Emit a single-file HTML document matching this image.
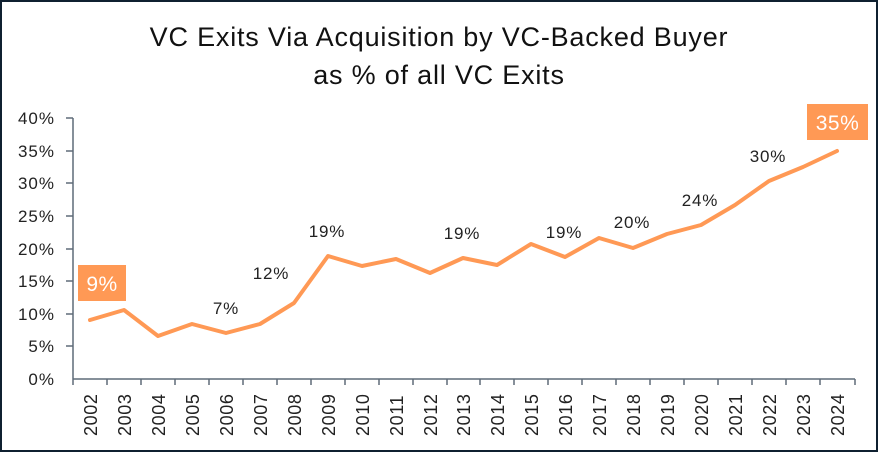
<!DOCTYPE html>
<html><head><style>
html,body{margin:0;padding:0;background:#fff;}
svg{display:block;font-family:"Liberation Sans",sans-serif;}
</style></head><body>
<svg width="878" height="452" viewBox="0 0 878 452" xmlns="http://www.w3.org/2000/svg">
<rect x="1" y="1" width="876" height="450" fill="#fff" stroke="#0f2030" stroke-width="2"/>
<text x="439" y="46" text-anchor="middle" font-size="27" letter-spacing="0.8" fill="#111">VC Exits Via Acquisition by VC-Backed Buyer</text>
<text x="439" y="84" text-anchor="middle" font-size="27" letter-spacing="0.8" fill="#111">as % of all VC Exits</text>
<g font-size="17" letter-spacing="1" fill="#222" text-anchor="end">
<text x="55" y="124">40%</text><text x="55" y="157">35%</text><text x="55" y="189">30%</text><text x="55" y="222">25%</text><text x="55" y="255">20%</text><text x="55" y="287">15%</text><text x="55" y="320">10%</text><text x="55" y="352">5%</text><text x="55" y="385">0%</text>
</g>
<g stroke="#5f6b78" stroke-width="1.5">
<line x1="73" y1="118" x2="73" y2="379"/>
<line x1="73" y1="379" x2="855" y2="379"/>
<line x1="66" y1="118" x2="73" y2="118"/><line x1="66" y1="151" x2="73" y2="151"/><line x1="66" y1="183" x2="73" y2="183"/><line x1="66" y1="216" x2="73" y2="216"/><line x1="66" y1="249" x2="73" y2="249"/><line x1="66" y1="281" x2="73" y2="281"/><line x1="66" y1="314" x2="73" y2="314"/><line x1="66" y1="346" x2="73" y2="346"/>
<line x1="73" y1="379" x2="73" y2="385"/><line x1="107" y1="379" x2="107" y2="385"/><line x1="141" y1="379" x2="141" y2="385"/><line x1="175" y1="379" x2="175" y2="385"/><line x1="209" y1="379" x2="209" y2="385"/><line x1="243" y1="379" x2="243" y2="385"/><line x1="277" y1="379" x2="277" y2="385"/><line x1="311" y1="379" x2="311" y2="385"/><line x1="345" y1="379" x2="345" y2="385"/><line x1="379" y1="379" x2="379" y2="385"/><line x1="413" y1="379" x2="413" y2="385"/><line x1="447" y1="379" x2="447" y2="385"/><line x1="480" y1="379" x2="480" y2="385"/><line x1="514" y1="379" x2="514" y2="385"/><line x1="548" y1="379" x2="548" y2="385"/><line x1="582" y1="379" x2="582" y2="385"/><line x1="616" y1="379" x2="616" y2="385"/><line x1="650" y1="379" x2="650" y2="385"/><line x1="684" y1="379" x2="684" y2="385"/><line x1="718" y1="379" x2="718" y2="385"/><line x1="752" y1="379" x2="752" y2="385"/><line x1="786" y1="379" x2="786" y2="385"/><line x1="820" y1="379" x2="820" y2="385"/><line x1="855" y1="379" x2="855" y2="385"/>
</g>
<g font-size="18" letter-spacing="0.6" fill="#222">
<text transform="translate(97,436) rotate(-90)">2002</text><text transform="translate(131,436) rotate(-90)">2003</text><text transform="translate(165,436) rotate(-90)">2004</text><text transform="translate(199,436) rotate(-90)">2005</text><text transform="translate(233,436) rotate(-90)">2006</text><text transform="translate(267,436) rotate(-90)">2007</text><text transform="translate(301,436) rotate(-90)">2008</text><text transform="translate(335,436) rotate(-90)">2009</text><text transform="translate(369,436) rotate(-90)">2010</text><text transform="translate(403,436) rotate(-90)">2011</text><text transform="translate(437,436) rotate(-90)">2012</text><text transform="translate(470,436) rotate(-90)">2013</text><text transform="translate(504,436) rotate(-90)">2014</text><text transform="translate(538,436) rotate(-90)">2015</text><text transform="translate(572,436) rotate(-90)">2016</text><text transform="translate(606,436) rotate(-90)">2017</text><text transform="translate(640,436) rotate(-90)">2018</text><text transform="translate(674,436) rotate(-90)">2019</text><text transform="translate(708,436) rotate(-90)">2020</text><text transform="translate(742,436) rotate(-90)">2021</text><text transform="translate(776,436) rotate(-90)">2022</text><text transform="translate(810,436) rotate(-90)">2023</text><text transform="translate(844,436) rotate(-90)">2024</text>
</g>
<polyline fill="none" stroke="#ff9955" stroke-width="4" stroke-linejoin="round" stroke-linecap="round"
points="90,320 124,310 158,336 192,324 226,333 260,324 294,303 328,256 362,266 396,259 430,273 463,258 497,265 531,244 565,257 599,238 633,248 667,234 701,225 735,205 769,181 803,167 837,151"/>
<rect x="78" y="265" width="48" height="36" fill="#ff9955"/>
<text x="102" y="291" text-anchor="middle" font-size="21" letter-spacing="0.5" fill="#fff">9%</text>
<rect x="807" y="104" width="61" height="36" fill="#ff9955"/>
<text x="837.5" y="130" text-anchor="middle" font-size="21" letter-spacing="0.5" fill="#fff">35%</text>
<g font-size="17" letter-spacing="0.8" fill="#222" text-anchor="middle">
<text x="226" y="314">7%</text><text x="271" y="279">12%</text><text x="327" y="237">19%</text><text x="462" y="239">19%</text><text x="564" y="238">19%</text><text x="632" y="228">20%</text><text x="700" y="206">24%</text><text x="768" y="162">30%</text>
</g>
</svg>
</body></html>
